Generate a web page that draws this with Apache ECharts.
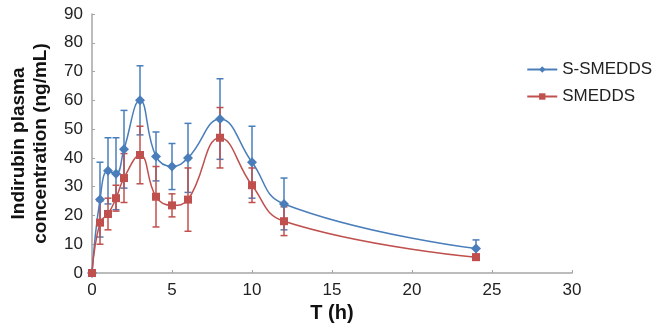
<!DOCTYPE html>
<html>
<head>
<meta charset="utf-8">
<script src="https://cdn.jsdelivr.net/npm/echarts@6/dist/echarts.min.js"></script>
<style>
  html, body { margin: 0; padding: 0; background: #fff; }
  #chart { width: 663px; height: 330px; }
</style>
</head>
<body>
<div id="chart"></div>
<script>
// sampling times (h)
const times = [0, 0.5, 1, 1.5, 2, 3, 4, 5, 6, 8, 10, 12, 24];

// mean plasma concentration (ng/mL)
const sSmedds = [0, 25.5, 35.5, 34.5, 43, 60, 40.5, 37, 40, 53.5, 38.5, 24, 8.5];
const smedds = [0, 17.5, 20.5, 26, 33, 41, 26.5, 23.5, 25.5, 47, 30.5, 18, 5.5];

// standard deviations
const sSmeddsSd = [0, 13, 11.5, 12.5, 13.5, 12, 8.5, 8, 12, 14, 12.5, 9, 3];
const smeddsSd = [0, 7.5, 5.5, 4.5, 8.5, 10, 10.5, 4, 11, 10.5, 6, 5, 1];

const BLUE = '#4a7ebb';
const RED = '#c0504d';

const pairs = (vals) => times.map((t, i) => [t, vals[i]]);
const bars = (vals, sd) => times.map((t, i) => [t, vals[i] - sd[i], vals[i] + sd[i]]);

const errorSeries = (name, data, color) => ({
  name: name + ' err',
  type: 'custom',
  data: data,
  silent: true,
  z: 1,
  renderItem: (params, api) => {
    const x = api.value(0);
    const lo = api.coord([x, api.value(1)]);
    const hi = api.coord([x, api.value(2)]);
    const w = 3.5;
    const style = { stroke: color, lineWidth: 1.5 };
    return {
      type: 'group',
      children: [
        { type: 'line', shape: { x1: lo[0], y1: lo[1], x2: hi[0], y2: hi[1] }, style },
        { type: 'line', shape: { x1: lo[0] - w, y1: lo[1], x2: lo[0] + w, y2: lo[1] }, style },
        { type: 'line', shape: { x1: hi[0] - w, y1: hi[1], x2: hi[0] + w, y2: hi[1] }, style },
      ],
    };
  },
});

const chart = echarts.init(document.getElementById('chart'));

const FONT = 'Liberation Sans, Arial, sans-serif';
const axisGray = '#a6a6a6';
const labelFont = { color: '#222', fontFamily: FONT, fontSize: 17 };

chart.setOption({
  animation: false,
  grid: { left: 92, right: 91, top: 14, bottom: 57, outerBoundsMode: 'none' },
  legend: {
    orient: 'vertical',
    right: 6,
    top: 56,
    itemWidth: 30,
    itemHeight: 8,
    itemGap: 10,
    data: ['S-SMEDDS', 'SMEDDS'],
    textStyle: labelFont,
  },
  xAxis: {
    type: 'value',
    min: 0,
    max: 30,
    interval: 5,
    name: 'T (h)',
    nameLocation: 'middle',
    nameGap: 30,
    nameTextStyle: { fontFamily: FONT, fontWeight: 'bold', fontSize: 20, color: '#111' },
    axisLine: { lineStyle: { color: axisGray, width: 1.5 } },
    axisTick: { inside: true, length: 3, lineStyle: { color: axisGray } },
    axisLabel: Object.assign({ margin: 9 }, labelFont),
    splitLine: { show: false },
  },
  yAxis: {
    type: 'value',
    min: 0,
    max: 90,
    interval: 10,
    name: 'Indirubin plasma\nconcentration (ng/mL)',
    nameLocation: 'middle',
    nameRotate: 90,
    nameGap: 40,
    nameTextStyle: { fontFamily: FONT, fontWeight: 'bold', fontSize: 19, color: '#111', lineHeight: 22 },
    axisLine: { show: true, lineStyle: { color: axisGray, width: 1.5 } },
    axisTick: { show: true, inside: true, length: 3, lineStyle: { color: axisGray } },
    axisLabel: Object.assign({ margin: 9 }, labelFont),
    splitLine: { show: false },
  },
  series: [
    errorSeries('S-SMEDDS', bars(sSmedds, sSmeddsSd), BLUE),
    errorSeries('SMEDDS', bars(smedds, smeddsSd), RED),
    {
      name: 'S-SMEDDS',
      type: 'line',
      data: pairs(sSmedds),
      smooth: 0.45,
      symbol: 'diamond',
      symbolSize: 10,
      z: 3,
      lineStyle: { color: BLUE, width: 1.5 },
      itemStyle: { color: BLUE },
    },
    {
      name: 'SMEDDS',
      type: 'line',
      data: pairs(smedds),
      smooth: 0.45,
      symbol: 'rect',
      symbolSize: 8,
      z: 3,
      lineStyle: { color: RED, width: 1.5 },
      itemStyle: { color: RED },
    },
  ],
});
</script>
</body>
</html>
